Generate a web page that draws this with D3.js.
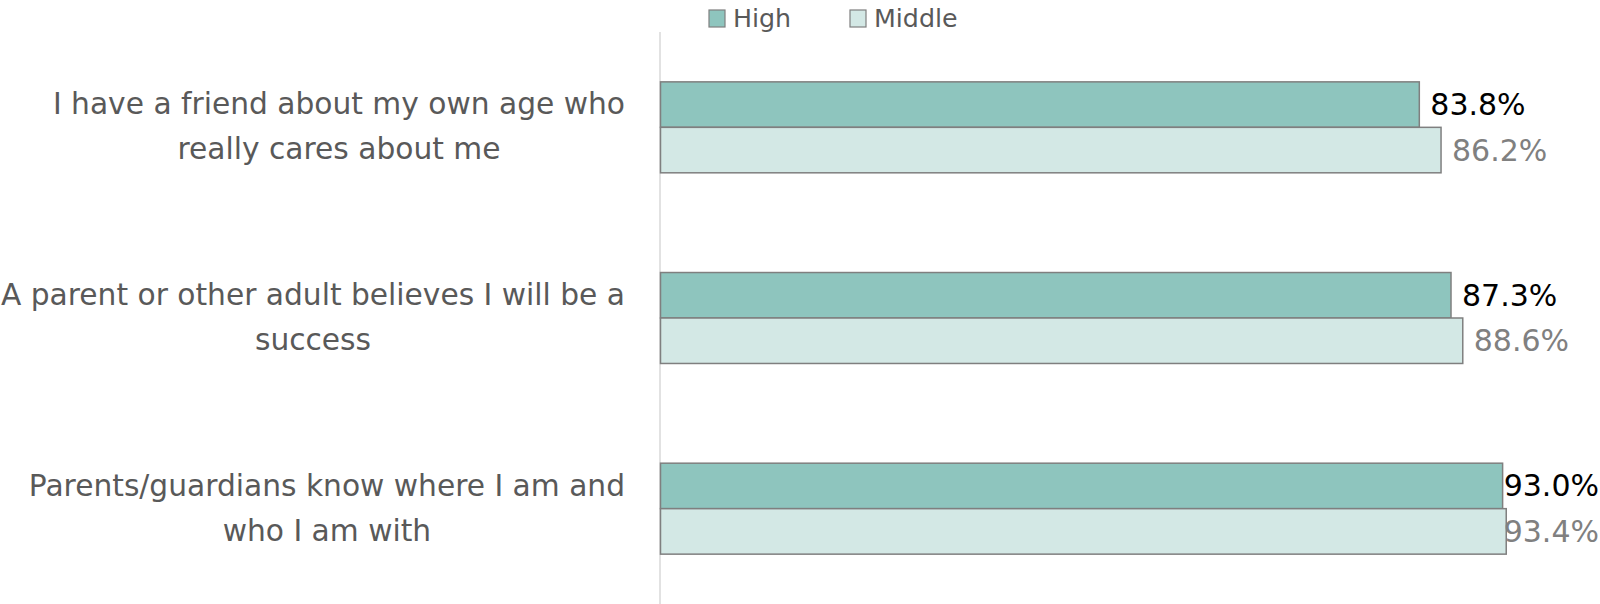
<!DOCTYPE html>
<html>
<head>
<meta charset="utf-8">
<script src="https://cdn.jsdelivr.net/npm/d3@7"></script>
<style>
  html, body { margin: 0; padding: 0; background: #ffffff; }
  svg { display: block; font-family: 'DejaVu Sans', Verdana, sans-serif; }
</style>
</head>
<body>
<div id="chart"></div>
<script>
// chart data
const categories = [
  ['I have a friend about my own age who', 'really cares about me'],
  ['A parent or other adult believes I will be a', 'success'],
  ['Parents/guardians know where I am and', 'who I am with'],
];
const seriesNames = ['High', 'Middle'];
const highValues = [83.8, 87.3, 93.0];
const middleValues = [86.2, 88.6, 93.4];

const colors = { High: '#8ec5be', Middle: '#d3e8e5' };
const labelColors = { High: '#000000', Middle: '#808080' };

const w = 1600;
const h = 604;
const margin = { top: 32, right: 34, bottom: 0, left: 660 };

const svg = d3
  .select('#chart')
  .append('svg')
  .attr('width', w)
  .attr('height', h);

const keys = categories.map((c, i) => i);
const data = keys.map(i => ({
  i,
  lines: categories[i],
  High: highValues[i],
  Middle: middleValues[i],
}));

const xScale = d3
  .scaleLinear()
  .domain([0, 100])
  .range([margin.left + 0.5, w - margin.right]);
const yScale = d3
  .scaleBand()
  .domain(keys)
  .range([margin.top, h - margin.bottom])
  .paddingInner(0.523)
  .paddingOuter(0.2615);
const sScale = d3
  .scaleBand()
  .domain(seriesNames)
  .range([0, yScale.bandwidth()]);

// vertical axis line
svg
  .append('line')
  .attr('x1', margin.left)
  .attr('x2', margin.left)
  .attr('y1', margin.top)
  .attr('y2', h)
  .style('stroke', '#d9d9d9')
  .style('stroke-width', 1.5);

// bars
const groups = svg
  .selectAll('.group')
  .data(data)
  .enter()
  .append('g')
  .attr('class', 'group')
  .attr('transform', d => 'translate(0,' + yScale(d.i) + ')');

seriesNames.forEach(s => {
  groups
    .append('rect')
    .attr('x', xScale(0))
    .attr('y', sScale(s))
    .attr('width', d => xScale(d[s]) - xScale(0))
    .attr('height', sScale.bandwidth())
    .attr('fill', colors[s])
    .attr('stroke', '#7f7f7f')
    .attr('stroke-width', 1.5);

  // value labels, pushed back inside the right edge when they would overflow
  groups
    .append('text')
    .style('font-size', '30px')
    .style('fill', labelColors[s])
    .attr('dominant-baseline', 'central')
    .attr('y', sScale(s) + sScale.bandwidth() / 2)
    .text(d => d[s].toFixed(1) + '%')
    .attr('x', function(d) {
      const tw = this.getComputedTextLength();
      return Math.min(xScale(d[s]) + 11, w - tw - 1);
    });
});

// category labels: lines centred on each other, block right-aligned
const labelRight = 625;
const lineGap = 45;
data.forEach(d => {
  const c = yScale(d.i) + yScale.bandwidth() / 2;
  const g = svg.append('g');
  const texts = d.lines.map((line, k) =>
    g
      .append('text')
      .style('font-size', '29.7px')
      .style('fill', '#595959')
      .attr('text-anchor', 'middle')
      .attr('dominant-baseline', 'central')
      .attr('y', c - 1 + (k - (d.lines.length - 1) / 2) * lineGap)
      .text(line),
  );
  const maxW = d3.max(texts, t => t.node().getComputedTextLength());
  texts.forEach(t => t.attr('x', labelRight - maxW / 2));
});

// legend
const legend = svg.append('g').attr('class', 'legend');
const legendX = { High: 709, Middle: 850 };
seriesNames.forEach(s => {
  legend
    .append('rect')
    .attr('x', legendX[s])
    .attr('y', 10)
    .attr('width', 16)
    .attr('height', 17)
    .attr('fill', colors[s])
    .attr('stroke', '#7f7f7f')
    .attr('stroke-width', 1.2);
  legend
    .append('text')
    .attr('x', legendX[s] + 24)
    .attr('y', 18)
    .attr('dominant-baseline', 'central')
    .style('font-size', '25.3px')
    .style('fill', '#595959')
    .text(s);
});
</script>
</body>
</html>
